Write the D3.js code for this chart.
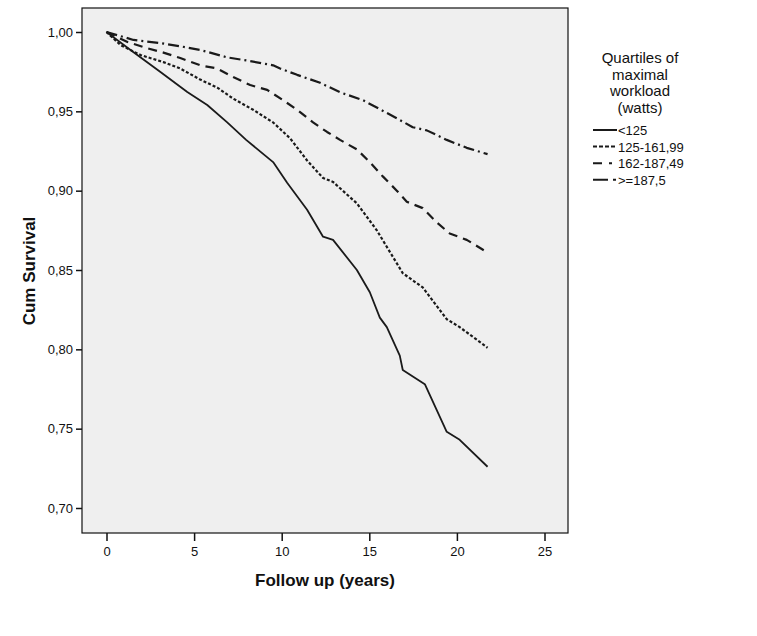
<!DOCTYPE html>
<html>
<head>
<meta charset="utf-8">
<script src="https://cdn.jsdelivr.net/npm/d3@7"></script>
<style>
  body { margin: 0; background: #fff; }
  text { font-family: Arial, "Liberation Sans", sans-serif; fill: #111; }
</style>
</head>
<body>
<script>
// follow-up times (years) and cumulative survival
var groups = ["<125", "125-161,99", "162-187,49", ">=187,5"];

var t_q1 = [0, 1.37, 3.08, 4.61, 5.75, 6.89, 7.97, 9.51, 10.31, 11.45, 12.36, 12.93, 14.29, 15.03, 15.6, 16.0, 16.74, 16.91, 18.17, 19.42, 20.16, 21.75];
var s_q1 = [1.0, 0.9887, 0.9748, 0.9622, 0.954, 0.943, 0.932, 0.918, 0.905, 0.888, 0.871, 0.869, 0.850, 0.836, 0.820, 0.814, 0.796, 0.787, 0.778, 0.748, 0.743, 0.726];

var t_q2 = [0, 0.8, 1.94, 3.25, 4.21, 5.35, 6.32, 7.23, 8.37, 9.51, 10.48, 11.45, 12.36, 12.93, 14.29, 15.43, 16.91, 18.05, 19.42, 20.16, 21.75];
var s_q2 = [1.0, 0.9918, 0.9855, 0.981, 0.977, 0.970, 0.965, 0.958, 0.951, 0.943, 0.933, 0.919, 0.908, 0.9055, 0.892, 0.875, 0.848, 0.839, 0.819, 0.814, 0.801];

var t_q3 = [0, 1.2, 2.1, 3.25, 4.21, 5.35, 6.32, 7.23, 8.2, 9.17, 10.08, 10.88, 11.79, 12.59, 13.33, 14.29, 15.03, 15.77, 16.57, 17.14, 18.05, 18.85, 19.59, 20.56, 21.75];
var s_q3 = [1.0, 0.9937, 0.9905, 0.987, 0.9836, 0.979, 0.977, 0.9716, 0.9666, 0.9635, 0.957, 0.951, 0.943, 0.937, 0.932, 0.926, 0.918, 0.909, 0.900, 0.893, 0.889, 0.880, 0.873, 0.869, 0.861];

var t_q4 = [0, 1.54, 3.08, 4.21, 5.35, 6.89, 8.03, 9.51, 9.91, 10.88, 12.19, 13.33, 14.64, 16.17, 17.48, 18.28, 19.42, 20.56, 21.75];
var s_q4 = [1.0, 0.995, 0.993, 0.991, 0.9887, 0.984, 0.982, 0.979, 0.977, 0.973, 0.968, 0.962, 0.957, 0.948, 0.940, 0.938, 0.932, 0.927, 0.923];

var xTicks = [0, 5, 10, 15, 20, 25];
var yTicks = [0.70, 0.75, 0.80, 0.85, 0.90, 0.95, 1.00];
var legendTitle = ["Quartiles of", "maximal", "workload", "(watts)"];

var series = [
  {name: groups[0], t: t_q1, s: s_q1, dash: null, legDash: null},
  {name: groups[1], t: t_q2, s: s_q2, dash: "3,2", legDash: "4,2"},
  {name: groups[2], t: t_q3, s: s_q3, dash: "9,6", legDash: "9,7,3,10"},
  {name: groups[3], t: t_q4, s: s_q4, dash: "11,4,2,4", legDash: "15,5,3,6"}
];

var width = 757, height = 636;
var frame = {left: 82, right: 568, top: 8, bottom: 533};

var svg = d3.select("body").append("svg")
  .attr("width", width).attr("height", height);

var x = d3.scaleLinear().domain([0, 25]).range([106.5, 544.5]);
var y = d3.scaleLinear().domain([0.70, 1.00]).range([508, 32]);

// plot background
svg.append("rect")
  .attr("x", frame.left).attr("y", frame.top)
  .attr("width", frame.right - frame.left).attr("height", frame.bottom - frame.top)
  .attr("fill", "#efefef").attr("stroke", "#111").attr("stroke-width", 1.2);

var comma = function(d) { return d3.format(".2f")(d).replace(".", ","); };

var yAxis = svg.append("g")
  .attr("transform", "translate(" + frame.left + ",0)")
  .call(d3.axisLeft(y).tickValues(yTicks).tickFormat(comma).tickSize(6).tickPadding(3));
var xAxis = svg.append("g")
  .attr("transform", "translate(0," + frame.bottom + ")")
  .call(d3.axisBottom(x).tickValues(xTicks).tickSize(8).tickPadding(6));

[yAxis, xAxis].forEach(function(a) {
  a.select(".domain").remove();
  a.selectAll("line").attr("stroke", "#111").attr("stroke-width", 1.5);
  a.selectAll("text").style("font-size", "13px").attr("fill", "#111");
});

// survival curves
var line = d3.line().x(function(d) { return x(d[0]); }).y(function(d) { return y(d[1]); });

svg.append("g").selectAll("path").data(series).enter().append("path")
  .attr("d", function(d) { return line(d3.zip(d.t, d.s)); })
  .attr("fill", "none")
  .attr("stroke", "#1a1a1a")
  .attr("stroke-width", function(d) { return d.dash ? 2.2 : 1.8; })
  .attr("stroke-dasharray", function(d) { return d.dash; })
  .attr("stroke-linejoin", "round");

// axis titles
svg.append("text")
  .attr("x", 325).attr("y", 586)
  .attr("text-anchor", "middle")
  .style("font-size", "17px").style("font-weight", "bold")
  .text("Follow up (years)");

svg.append("text")
  .attr("transform", "translate(35,271) rotate(-90)")
  .attr("text-anchor", "middle")
  .style("font-size", "17px").style("font-weight", "bold")
  .text("Cum Survival");

// legend
svg.append("g").selectAll("text").data(legendTitle).enter().append("text")
  .attr("x", 640)
  .attr("y", function(d, i) { return 63 + i * 16.5; })
  .attr("text-anchor", "middle")
  .style("font-size", "15px")
  .text(function(d) { return d; });

var legend = svg.append("g").selectAll(".legends").data(series).enter().append("g")
  .classed("legends", true)
  .attr("transform", function(d, i) { return "translate(0," + (130 + i * 16.6) + ")"; });

legend.append("line")
  .attr("x1", 593).attr("x2", 617).attr("y1", 0).attr("y2", 0)
  .attr("stroke", "#1a1a1a").attr("stroke-width", 2)
  .attr("stroke-dasharray", function(d) { return d.legDash; });

legend.append("text")
  .attr("x", 618).attr("y", 5)
  .style("font-size", "13px")
  .text(function(d) { return d.name; });
</script>
</body>
</html>
